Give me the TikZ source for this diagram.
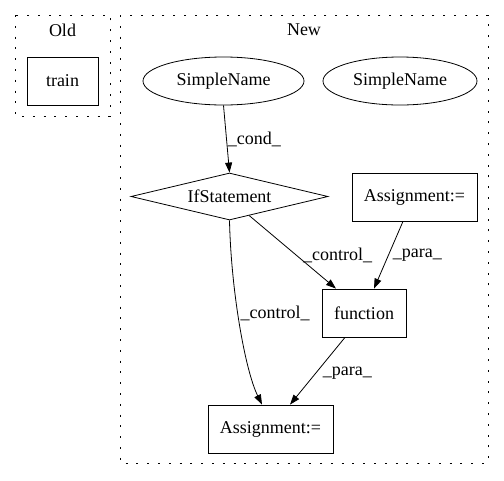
\documentclass[tikz,border=0pt]{standalone}
\usepackage{fontspec}
\setmainfont{Liberation Serif}
\usetikzlibrary{shapes.geometric,arrows.meta,calc}
\begin{document}
\begin{tikzpicture}[x=1pt,y=-1pt,
  every node/.style={font=\fontsize{18}{21}\selectfont},
  cluster/.style={draw, line width=0.8pt, dash pattern=on 2pt off 8.8pt},
  box/.style={draw, line width=0.8pt, rectangle, inner sep=0pt},
  ell/.style={draw, line width=0.8pt, ellipse, inner sep=0pt, minimum height=48pt},
  dia/.style={draw, line width=0.8pt, diamond, aspect=4, inner sep=0pt, minimum width=197pt, minimum height=47pt},
  edge/.style={draw, line width=0.8pt, -{Triangle[length=10pt,width=7pt]}},
  lbl/.style={anchor=west, inner sep=1pt}]
\useasboundingbox (0,0) rectangle (504,480);
% clusters
\draw[cluster] (15,15) rectangle (110,116);
\node (oldt) at (62.5,30) {Old};
\draw[cluster] (120,15) rectangle (488,463);
\node (newt) at (304,30) {New};
% nodes
\node[box, minimum width=71pt, minimum height=48pt] (train) at (62.5,81) {train};
\node[ell, minimum width=161pt] (sn1) at (223.5,81) {SimpleName};
\node[ell, minimum width=154pt] (sn2) at (400,81) {SimpleName};
\node[dia] (if) at (229.5,196.5) {IfStatement};
\node[box, minimum width=125pt, minimum height=48pt] (a1) at (414.5,197) {Assignment:=};
\node[box, minimum width=84pt, minimum height=48pt] (fn) at (364,313) {function};
\node[box, minimum width=125pt, minimum height=48pt] (a2) at (270.5,429) {Assignment:=};
% edges
\draw[edge] (sn1.south) -- node[lbl, pos=0.5] {\_cond\_} (if.north);
\draw[edge] ($(if.south)!0.2!(if.east)$) -- node[lbl, pos=0.5, xshift=9pt, yshift=-3pt] {\_control\_} ([xshift=-28pt]fn.north);
\draw[edge] ([xshift=-11.5pt]a1.south) -- node[lbl, pos=0.5, xshift=3pt] {\_para\_} ([xshift=10pt]fn.north);
\draw[edge] (if.south) .. controls (231,290) and (245,370) .. node[lbl, pos=0.45, xshift=1pt, yshift=2pt] {\_control\_} ([xshift=-8.5pt]a2.north);
\draw[edge] ([xshift=-19pt]fn.south) -- node[lbl, pos=0.5, xshift=4pt, yshift=-2pt] {\_para\_} ([xshift=19.5pt]a2.north);
\end{tikzpicture}
\end{document}
